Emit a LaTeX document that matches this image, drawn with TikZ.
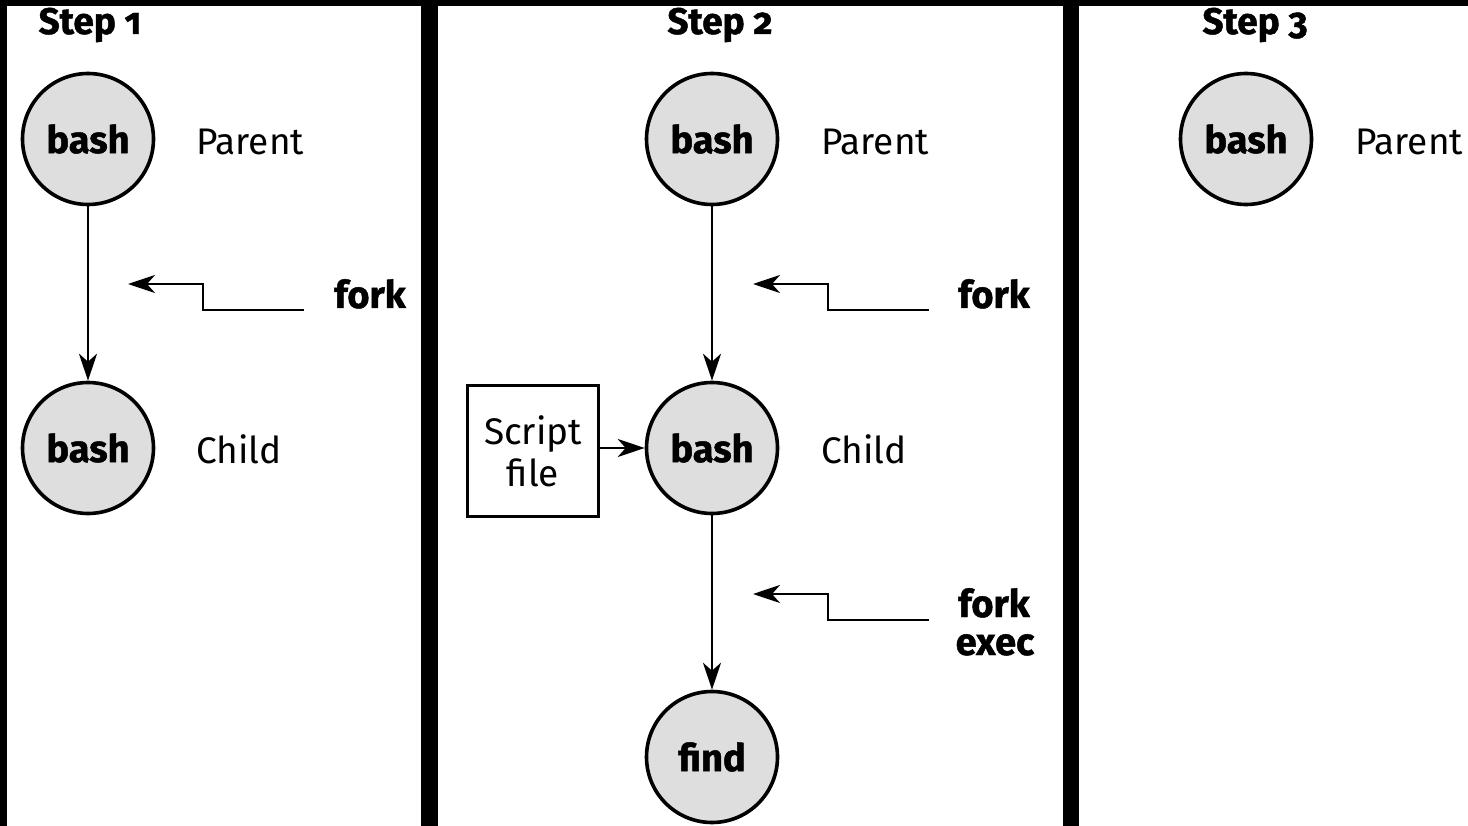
\documentclass[tikz,border=0pt]{standalone}
\usepackage{fontspec}
\setmainfont{Fira Sans}[Numbers=OldStyle,BoldFeatures={FakeBold=1.2}]
\usetikzlibrary{arrows.meta}
\begin{document}
\begin{tikzpicture}[x=1pt,y=-1pt]
            \tikzstyle{proc}=[circle,draw,line width=3.6pt,fill=black!13,minimum size=131pt,inner sep=0pt,font=\fontsize{38}{40}\selectfont\bfseries]
            \tikzstyle{role}=[anchor=base west,inner sep=0pt,font=\fontsize{37}{40}\selectfont]
            \tikzstyle{call}=[anchor=base,inner sep=0pt,font=\fontsize{38}{40}\selectfont\bfseries]
            \tikzstyle{titre}=[anchor=base,inner sep=0pt,font=\fontsize{37}{40}\selectfont\bfseries]
            \tikzset{edge/.style = {line width=2.4pt,-{Stealth[length=27pt,width=18pt,inset=8pt]}}}
            \useasboundingbox (0,0) rectangle (1468,826);
            % fond et panneaux
            \fill[black] (0,0) rectangle (1468,826);
            \fill[white] (7,6) rectangle (421,826);
            \fill[white] (438,6) rectangle (1063,826);
            \fill[white] (1079,6) rectangle (1468,826);
            % Step 1
            \node[titre] (t1) at (90,34) {Step 1};
            \node[proc] (p1) at (88,139) {bash};
            \node[proc] (c1) at (88,448) {bash};
            \node[role] (lp1) at (196,155) {Parent};
            \node[role] (lc1) at (196,463) {Child};
            \draw[edge] (p1) -> (c1);
            \coordinate (f1s) at (304,310);
            \coordinate (f1e) at (128,284);
            \draw[edge] (f1s) -- ++(-101,0) |- (f1e);
            \node[call] (k1) at (370,308) {fork};
            % Step 2
            \node[titre] (t2) at (720,34) {Step 2};
            \node[proc] (p2) at (712,139) {bash};
            \node[proc] (c2) at (712,448) {bash};
            \node[proc] (g2) at (712,757) {find};
            \node[role] (lp2) at (821,155) {Parent};
            \node[role] (lc2) at (821,463) {Child};
            \node[rectangle,draw,line width=3.6pt,minimum size=131pt,inner sep=0pt,align=center,
                  font=\fontsize{37}{42}\selectfont] (s2) at (533,451) {Script\\file};
            \draw[edge] (p2) -> (c2);
            \draw[edge] (c2) -> (g2);
            \draw[edge] (s2.east |- c2) -> (c2);
            \coordinate (f2s) at (929,310);
            \coordinate (f2e) at (753,284);
            \draw[edge] (f2s) -- ++(-101,0) |- (f2e);
            \node[call] (k2) at (994,308) {fork};
            \coordinate (f3s) at (929,620);
            \coordinate (f3e) at (753,594);
            \draw[edge] (f3s) -- ++(-101,0) |- (f3e);
            \node[call] (k3) at (994,617) {fork};
            \node[call] (x3) at (995,655) {exec};
            % Step 3
            \node[titre] (t3) at (1255,34) {Step 3};
            \node[proc] (p3) at (1246,139) {bash};
            \node[role] (lp3) at (1355,155) {Parent};
        \end{tikzpicture}
\end{document}
